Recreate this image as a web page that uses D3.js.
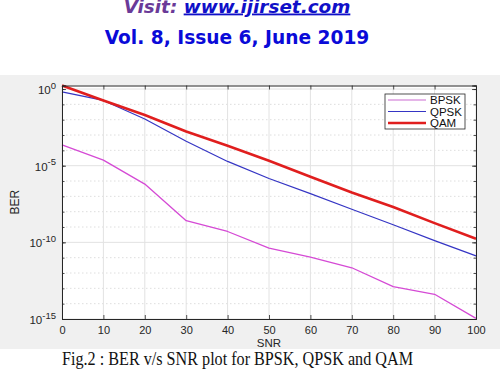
<!DOCTYPE html>
<html>
<head>
<meta charset="utf-8">
<script src="https://cdn.jsdelivr.net/npm/d3@7"></script>
<style>
  body { margin: 0; background: #fff; }
  svg text { font-family: "Liberation Sans", Arial, sans-serif; }
</style>
</head>
<body>
<div id="chart"></div>
<script>
// data
const snr = [0, 10, 20, 30, 40, 50, 60, 70, 80, 90, 100];
const bpsk = [2.3e-4, 2.3e-5, 6.3e-7, 2.6e-9, 5.1e-10, 4.2e-11, 1.1e-11, 2.2e-12, 1.3e-13, 4.1e-14, 1.1e-15];
const qpsk = [0.66, 0.18, 1.1e-2, 3.9e-4, 1.9e-5, 1.45e-6, 1.5e-7, 1.45e-8, 1.4e-9, 1.3e-10, 1.3e-11];
const qam = [1.7, 0.18, 2.0e-2, 1.7e-3, 2.0e-4, 2.1e-5, 1.9e-6, 1.8e-7, 2.0e-8, 1.8e-9, 1.7e-10];
const xTicks = [0, 10, 20, 30, 40, 50, 60, 70, 80, 90, 100];
const yTickExp = [0, -5, -10, -15];

const series = [
  { name: 'BPSK', values: bpsk, color: '#d54ad5', legendColor: '#dc9ce0', width: 1.3 },
  { name: 'QPSK', values: qpsk, color: '#3535c4', legendColor: '#3535c4', width: 1.2 },
  { name: 'QAM', values: qam, color: '#e01e1e', legendColor: '#e01e1e', width: 2.6 }
];

const W = 500, H = 370;
const margin = { top: 85.5, right: 24, bottom: 51, left: 62 };
const width = W - margin.left - margin.right;
const height = H - margin.top - margin.bottom;

const svg = d3.select('#chart').append('svg')
  .attr('width', W)
  .attr('height', H);

// header text
const head1 = svg.append('text')
  .attr('x', 237).attr('y', 12.5)
  .attr('text-anchor', 'middle')
  .style('font-family', '"DejaVu Sans", sans-serif')
  .style('font-weight', 'bold')
  .style('font-style', 'italic')
  .style('font-size', '18.4px');
head1.append('tspan').attr('fill', '#6a3a98').text('Visit: ');
head1.append('tspan').attr('fill', '#1010c8').style('text-decoration', 'underline').text('www.ijirset.com');

svg.append('text')
  .attr('x', 237).attr('y', 43.5)
  .attr('text-anchor', 'middle')
  .attr('fill', '#0a0ad8')
  .style('font-family', '"DejaVu Sans", sans-serif')
  .style('font-weight', 'bold')
  .style('font-size', '18.6px')
  .text('Vol. 8, Issue 6, June 2019');

// gray figure background
svg.append('rect')
  .attr('x', 0).attr('y', 75)
  .attr('width', W).attr('height', 274)
  .attr('fill', '#f0f0f0');

const chart = svg.append('g')
  .attr('transform', `translate(${margin.left},${margin.top})`);

const x = d3.scaleLinear().domain([0, 100]).range([0, width]);
const y = d3.scaleLog().domain([1e-15, d3.max(qam)]).range([height, 0]);

chart.append('rect')
  .attr('width', width).attr('height', height)
  .attr('fill', '#fff');

// minor grid (each decade)
const decades = d3.range(-15, 1);
chart.selectAll('.minor-grid')
  .data(decades.filter(e => !yTickExp.includes(e)))
  .join('line')
  .attr('class', 'minor-grid')
  .attr('x1', 0).attr('x2', width)
  .attr('y1', d => y(Math.pow(10, d))).attr('y2', d => y(Math.pow(10, d)))
  .attr('stroke', '#d6d6d6')
  .attr('stroke-dasharray', '1.5,2.5')
  .attr('stroke-width', 0.8);

// major grid
chart.selectAll('.ygrid')
  .data(yTickExp)
  .join('line')
  .attr('class', 'ygrid')
  .attr('x1', 0).attr('x2', width)
  .attr('y1', d => y(Math.pow(10, d))).attr('y2', d => y(Math.pow(10, d)))
  .attr('stroke', '#e2e2e2')
  .attr('stroke-width', 1);

chart.selectAll('.xgrid')
  .data(xTicks)
  .join('line')
  .attr('class', 'xgrid')
  .attr('x1', d => x(d)).attr('x2', d => x(d))
  .attr('y1', 0).attr('y2', height)
  .attr('stroke', '#e2e2e2')
  .attr('stroke-width', 1);

// lines
const line = d3.line()
  .x((d, i) => x(snr[i]))
  .y(d => y(d));

chart.selectAll('.series')
  .data(series)
  .join('path')
  .attr('class', 'series')
  .attr('d', d => line(d.values))
  .attr('fill', 'none')
  .attr('stroke', d => d.color)
  .attr('stroke-width', d => d.width)
  .attr('stroke-linejoin', 'round');

// axes with inward ticks (box style)
const axisColor = '#262626';
const xAxis = chart.append('g')
  .attr('transform', `translate(0,${height})`)
  .call(d3.axisBottom(x).tickValues(xTicks).tickSize(-4).tickPadding(7));
chart.append('g')
  .call(d3.axisTop(x).tickValues(xTicks).tickSize(-4).tickFormat(''));

chart.append('g')
  .call(d3.axisLeft(y).tickValues(decades.map(e => Math.pow(10, e))).tickSize(-2.5).tickFormat(''));
chart.append('g')
  .attr('transform', `translate(${width},0)`)
  .call(d3.axisRight(y).tickValues(decades.map(e => Math.pow(10, e))).tickSize(-2.5).tickFormat(''));
// major y ticks a bit longer
chart.append('g')
  .call(d3.axisLeft(y).tickValues(yTickExp.map(e => Math.pow(10, e))).tickSize(-4).tickFormat(''));
chart.append('g')
  .attr('transform', `translate(${width},0)`)
  .call(d3.axisRight(y).tickValues(yTickExp.map(e => Math.pow(10, e))).tickSize(-4).tickFormat(''));

chart.selectAll('.domain').attr('stroke', axisColor).attr('stroke-width', 1);
chart.selectAll('.tick line').attr('stroke', axisColor).attr('stroke-width', 0.8);

xAxis.selectAll('text')
  .attr('fill', axisColor)
  .style('font-size', '11px');

// y tick labels with superscript exponents
const yLabels = chart.selectAll('.ylab')
  .data(yTickExp)
  .join('text')
  .attr('class', 'ylab')
  .attr('x', -6)
  .attr('y', d => y(Math.pow(10, d)) + 5)
  .attr('text-anchor', 'end')
  .attr('fill', axisColor)
  .style('font-size', '11.5px');
yLabels.append('tspan').text('10');
yLabels.append('tspan')
  .attr('dy', -5.5)
  .style('font-size', '9.5px')
  .text(d => d);

// axis titles
chart.append('text')
  .attr('x', width / 2).attr('y', height + 28)
  .attr('text-anchor', 'middle')
  .attr('fill', axisColor)
  .style('font-size', '11.5px')
  .text('SNR');

chart.append('text')
  .attr('transform', `translate(${-43},${height / 2}) rotate(-90)`)
  .attr('text-anchor', 'middle')
  .attr('fill', axisColor)
  .style('font-size', '12px')
  .text('BER');

// legend
const legend = chart.append('g')
  .attr('transform', `translate(${323},${8.5})`);
legend.append('rect')
  .attr('width', 80).attr('height', 35)
  .attr('fill', '#fff')
  .attr('stroke', '#262626')
  .attr('stroke-width', 0.8);
const items = legend.selectAll('.item')
  .data(series)
  .join('g')
  .attr('class', 'item')
  .attr('transform', (d, i) => `translate(0,${6 + i * 11.5})`);
items.append('line')
  .attr('x1', 3).attr('x2', 41)
  .attr('stroke', d => d.legendColor)
  .attr('stroke-width', d => d.width);
items.append('text')
  .attr('x', 45).attr('y', 4)
  .attr('fill', '#111')
  .style('font-size', '11.5px')
  .text(d => d.name);

// caption
svg.append('text')
  .attr('x', 62).attr('y', 364.5)
  .attr('textLength', 351)
  .attr('lengthAdjust', 'spacingAndGlyphs')
  .attr('fill', '#111')
  .style('font-family', '"Liberation Serif", "Times New Roman", serif')
  .style('font-size', '18.5px')
  .text('Fig.2  : BER v/s SNR plot for BPSK, QPSK and QAM');
</script>
</body>
</html>
